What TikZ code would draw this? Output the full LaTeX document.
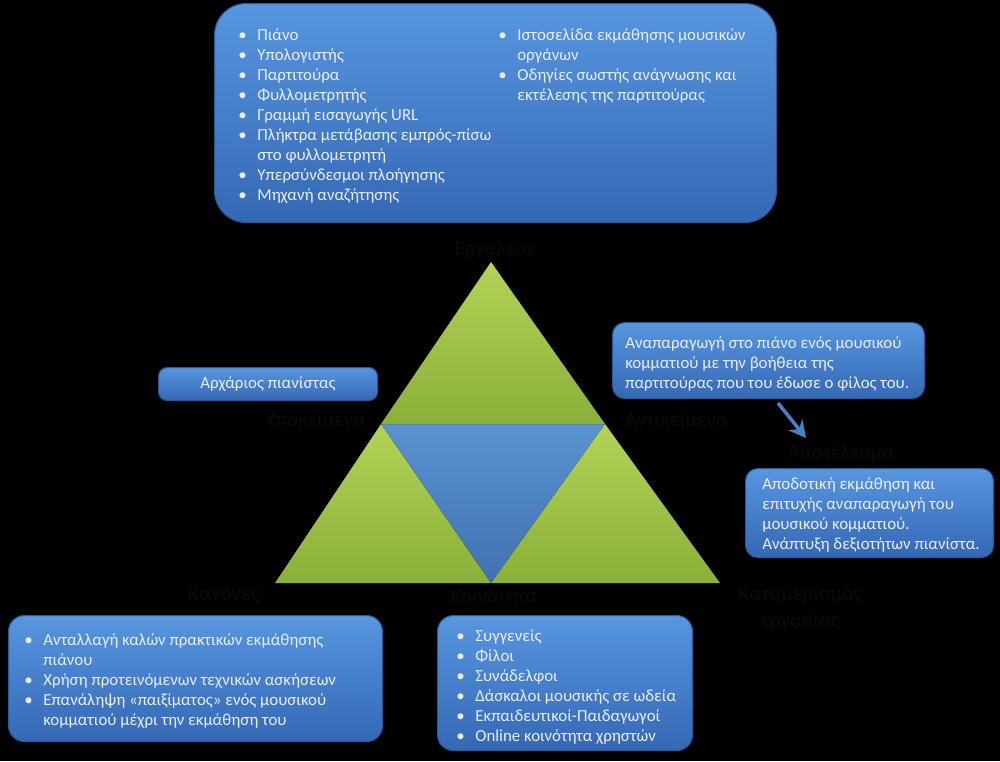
\documentclass[tikz,border=0pt]{standalone}
\usepackage{fontspec}
\setmainfont{Carlito}
\usepackage{tikz}
\usetikzlibrary{arrows.meta,positioning}
\definecolor{bxTop}{HTML}{5796E0}
\definecolor{bxBot}{HTML}{3468B5}
\definecolor{bxEdge}{HTML}{2C5A98}
\definecolor{triTop}{HTML}{B3D357}
\definecolor{triBot}{HTML}{8AB038}
\definecolor{midTop}{HTML}{5A93D2}
\definecolor{midBot}{HTML}{3F72B2}
\definecolor{arrBlue}{HTML}{4A7FC4}
\definecolor{txtLight}{HTML}{EDEDED}
\definecolor{lblDark}{HTML}{0B0B0B}
\newcommand{\lstfont}{\fontsize{9.6}{11.4}\selectfont}
\newcommand{\lblfont}{\fontsize{12}{15.4}\selectfont}
\newcommand{\bul}{\makebox[0.38cm][l]{•}}
\newcommand{\ind}{\hspace*{0.38cm}}

\begin{document}
\begin{tikzpicture}[
  x=0.02cm, y=-0.02cm,
  panel/.style={draw=bxEdge, line width=0.6pt, top color=bxTop, bottom color=bxBot,
    inner sep=0pt, anchor=north west, rounded corners=#1},
  panel/.default=6pt,
  lst/.style={anchor=north west, inner sep=0pt, align=left, text=txtLight, font=\lstfont},
  lbl/.style={text=lblDark, font=\lblfont, align=center, inner sep=0pt},
  tri/.style={top color=triTop, bottom color=triBot},
  mid/.style={top color=midTop, bottom color=midBot},
  arr/.style={-{Stealth[length=3.4mm,width=3.6mm]}, line width=2pt, color=arrBlue}
]
% background
\fill[black] (0,0) rectangle (1000,761);
\useasboundingbox (0,0) rectangle (1000,761);
% triangle corners
\coordinate (apex) at (491,262);
\coordinate (ml) at (381,424);
\coordinate (mr) at (605,424);
\coordinate (bl) at (275,583);
\coordinate (bm) at (491,583);
\coordinate (br) at (720,583);
\fill[mid] (ml) -- (mr) -- (bm) -- cycle;
\fill[tri] (apex) -- (ml) -- (mr) -- cycle;
\fill[tri] (ml) -- (bl) -- (bm) -- cycle;
\fill[tri] (mr) -- (bm) -- (br) -- cycle;
% corner labels
\node[lbl] (tools) at (494,250) {Εργαλεία};
\node[lbl] (subj) at (315,421) {Υποκείμενο};
\node[lbl] (obj) at (676,421) {Αντικείμενο};
\node[lbl] (outc) at (841,454) {Αποτέλεσμα};
\node[lbl] (rules) at (224,595) {Κανόνες};
\node[lbl] (comm) at (494,597) {Κοινότητα};
\node[lbl] (labour) at (800,608) {Καταμερισμός\\εργασίας};
% panels
\node[panel=18pt, minimum width=11.24cm, minimum height=4.38cm] (toolsbox) at (214,3) {};
\node[panel=5pt, minimum width=4.38cm, minimum height=0.66cm] (subjbox) at (158,367) {};
\node[panel=7pt, minimum width=6.24cm, minimum height=1.52cm] (objbox) at (612,322) {};
\node[panel=7pt, minimum width=4.96cm, minimum height=1.78cm] (outbox) at (745,468) {};
\node[panel=9pt, minimum width=7.48cm, minimum height=2.52cm] (rulesbox) at (8,615) {};
\node[panel=9pt, minimum width=5.1cm, minimum height=2.7cm] (commbox) at (437,615) {};
% panel texts
\node[lst] (toolsL) at (238,28) {\bul Πιάνο\\ \bul Υπολογιστής\\ \bul Παρτιτούρα\\ \bul Φυλλομετρητής\\
  \bul Γραμμή εισαγωγής URL\\ \bul Πλήκτρα μετάβασης εμπρός-πίσω\\ \ind στο φυλλομετρητή\\
  \bul Υπερσύνδεσμοι πλοήγησης\\ \bul Μηχανή αναζήτησης};
\node[lst] (toolsR) at (498,28) {\bul Ιστοσελίδα εκμάθησης μουσικών\\ \ind οργάνων\\
  \bul Οδηγίες σωστής ανάγνωσης και\\ \ind εκτέλεσης της παρτιτούρας};
\node[text=txtLight, font=\lstfont, inner sep=0pt] (subjtxt) at (subjbox.center) {Αρχάριος πιανίστας};
\node[lst] (objtxt) at (625,336) {Αναπαραγωγή στο πιάνο ενός μουσικού\\ κομματιού με την βοήθεια της\\
  παρτιτούρας που του έδωσε ο φίλος του.};
\node[lst] (outtxt) at (762,477) {Αποδοτική εκμάθηση και\\ επιτυχής αναπαραγωγή του\\
  μουσικού κομματιού.\\ Ανάπτυξη δεξιοτήτων πιανίστα.};
\node[lst] (rulestxt) at (24,633) {\bul Ανταλλαγή καλών πρακτικών εκμάθησης\\ \ind πιάνου\\
  \bul Χρήση προτεινόμενων τεχνικών ασκήσεων\\ \bul Επανάληψη «παιξίματος» ενός μουσικού\\
  \ind κομματιού μέχρι την εκμάθηση του};
\node[lst] (commtxt) at (456,629) {\bul Συγγενείς\\ \bul Φίλοι\\ \bul Συνάδελφοι\\
  \bul Δάσκαλοι μουσικής σε ωδεία\\ \bul Εκπαιδευτικοί-Παιδαγωγοί\\ \bul Online κοινότητα χρηστών};
% arrow to outcome
\coordinate (aS) at (778,403);
\coordinate (aE) at (806,438);
\draw[arr] (aS) -- (aE);
\end{tikzpicture}
\end{document}
